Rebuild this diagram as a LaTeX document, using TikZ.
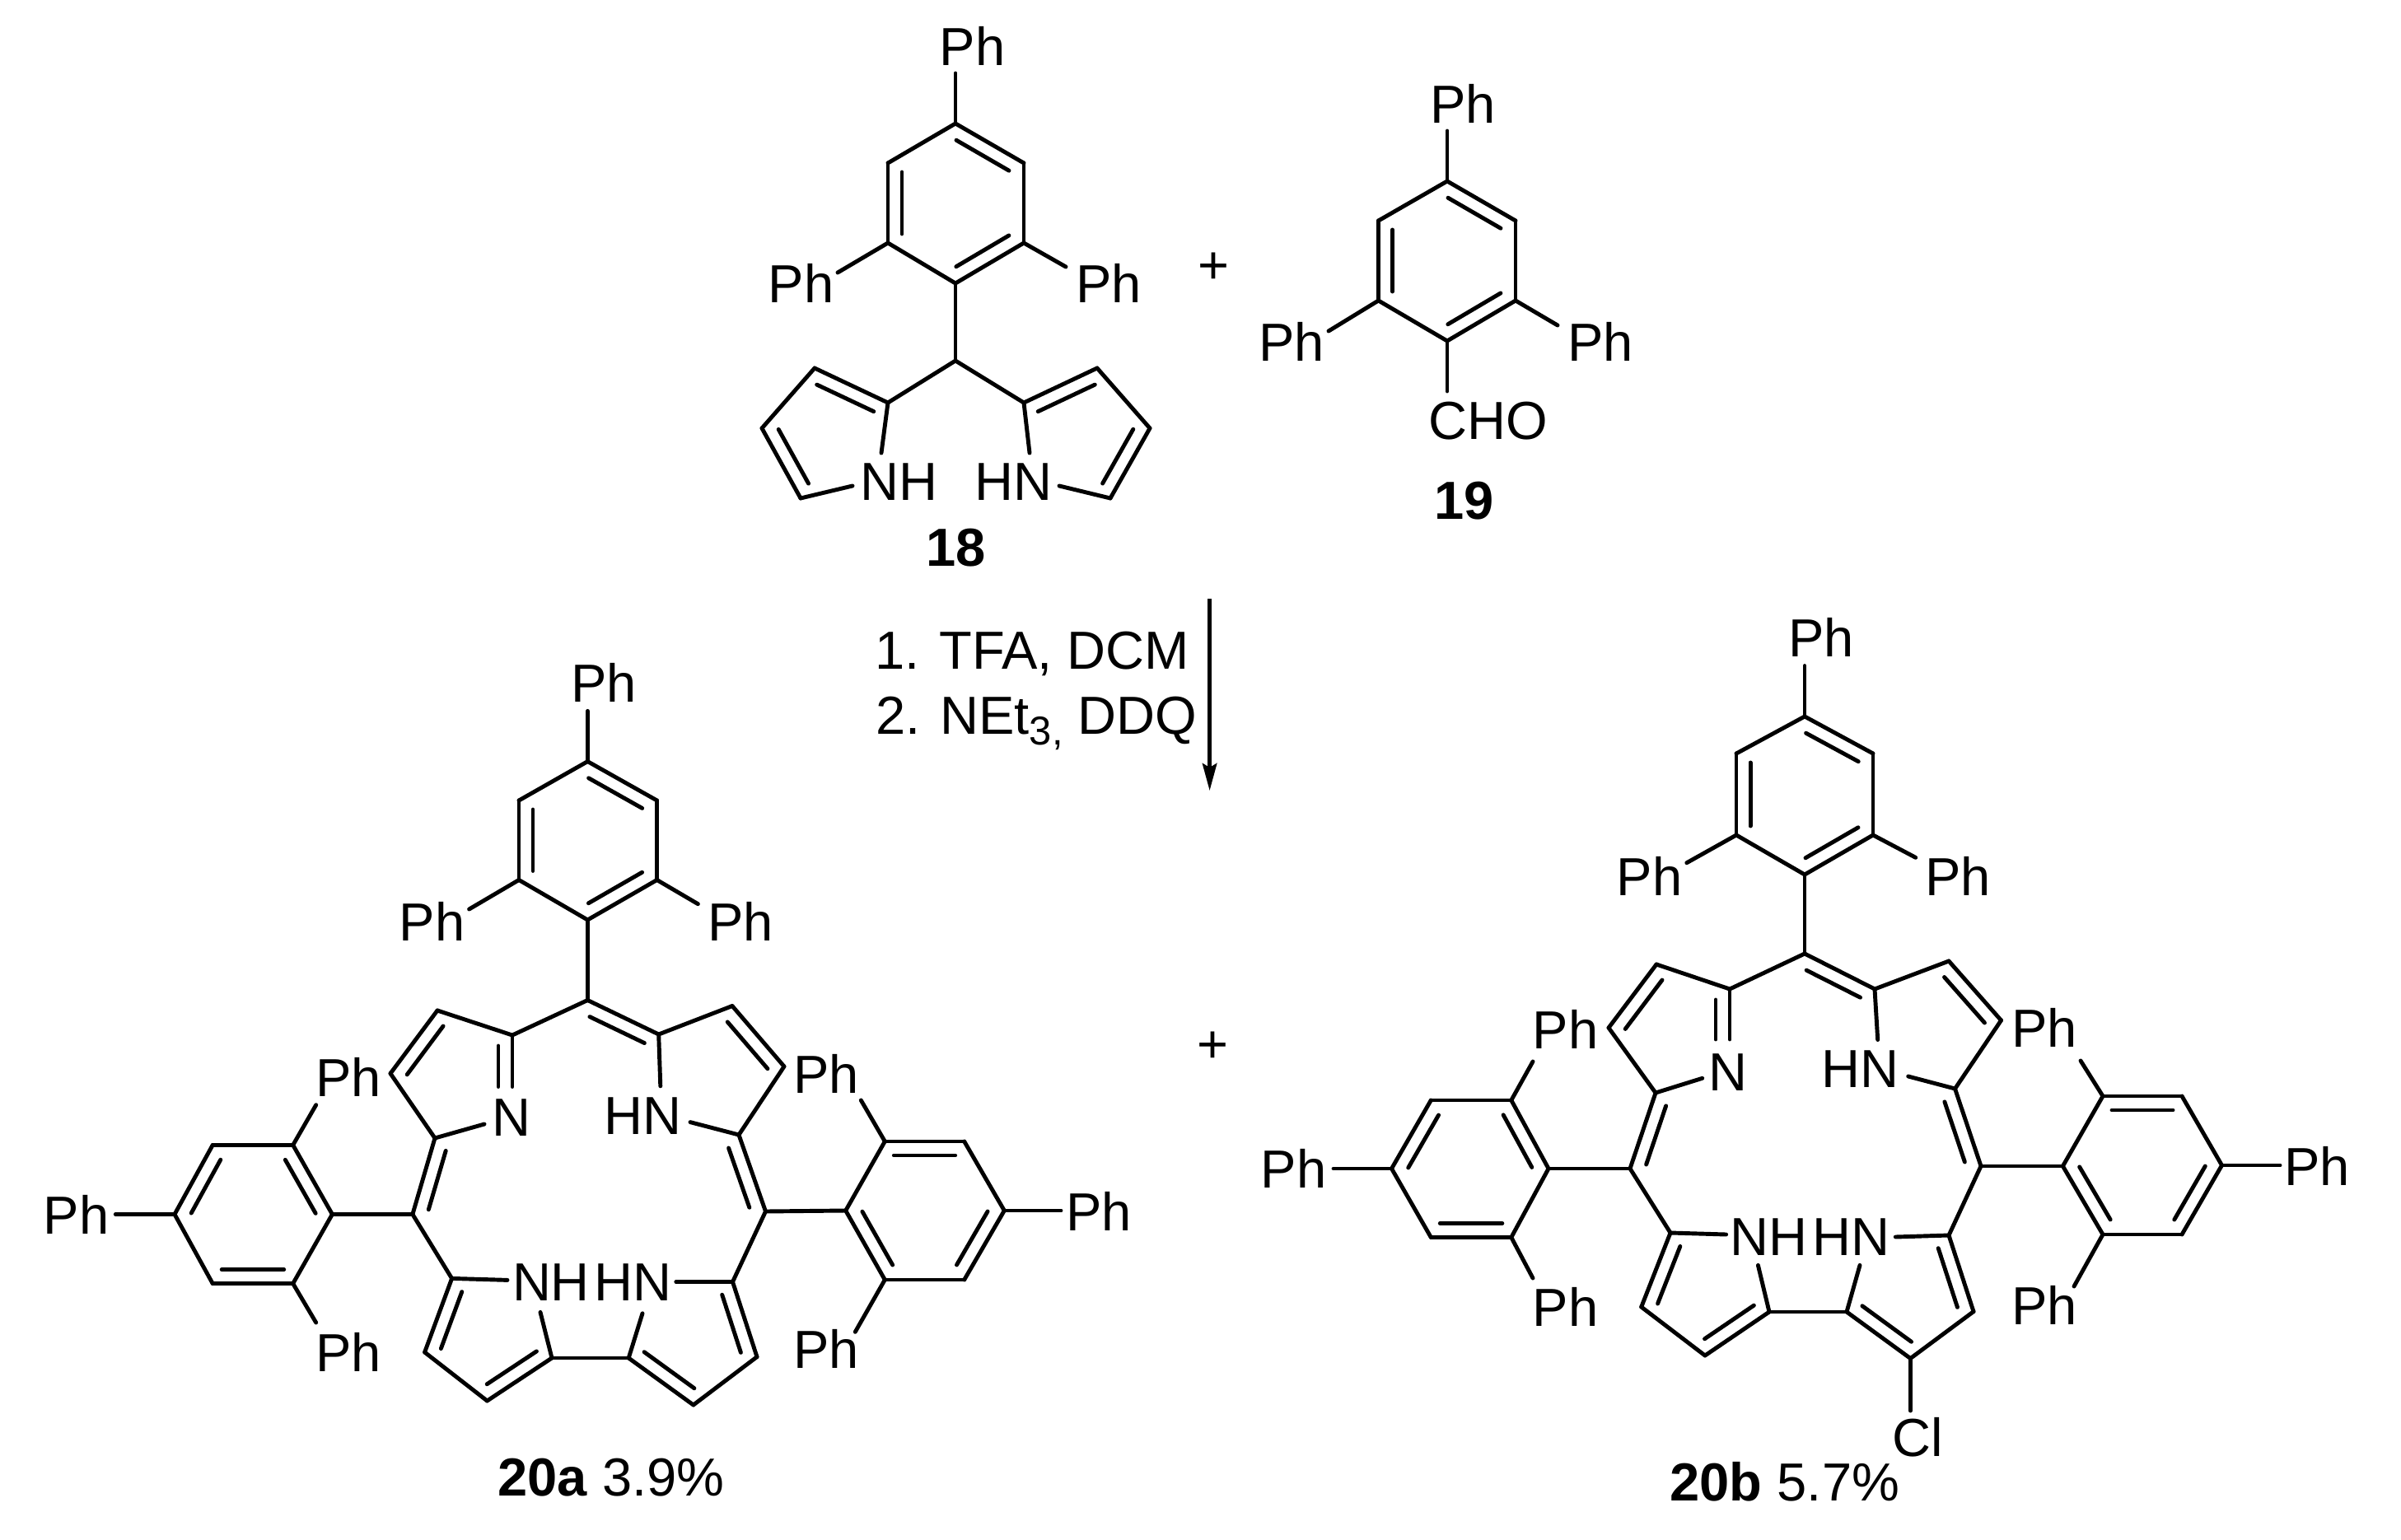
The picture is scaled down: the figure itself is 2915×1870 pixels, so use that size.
\documentclass[tikz,border=0pt]{standalone}
\usepackage{fontspec}
\setmainfont{Liberation Sans}
\usepackage{tikz}
\usetikzlibrary{calc}
\usetikzlibrary{arrows.meta}
\newcommand{\chemfont}{\fontsize{18.5}{22}\selectfont}
\newcommand{\subfont}{\fontsize{13.9}{16}\selectfont}
\tikzset{bond/.style={line width=1.4pt,line cap=round,black}}
\tikzset{atom/.style={inner sep=0pt,outer sep=0pt,font=\chemfont,black}}
\begin{document}
\begin{tikzpicture}[x=0.01cm,y=-0.01cm]
\useasboundingbox (0,0) rectangle (2915,1870);
  % some vertices
\foreach \n/\x/\y in {A1/1160/150,A2/1243/198,A3/1243/295,A4/1160/344,A5/1078/295,A6/1078/198,
    Ae1/1160/89,Ae2/1017/331,Ae3/1294/324,AC/1160/438,
    AL1/1078/489,AL2/989/447,AL3/925/520,AL4/972/605,AL5/1035/590,AL6/1070/550,
    AR1/1243/489,AR2/1332/447,AR3/1396/520,AR4/1348/605,AR5/1286/590,AR6/1250/550,
    B1/1757/220,B2/1840/268,B3/1840/365,B4/1757/414,B5/1673.5/365,B6/1673.5/268,
    Be1/1757/159,Be2/1613/402,Be3/1891/395,Be4/1757/475,
    C1/713.4/924.6,C2/797.6/972,C3/797.6/1068.5,C4/713.4/1117,C5/630/1068.5,C6/630/972,
    Ce1/713.4/863.4,Ce2/569.6/1104,Ce3/847.4/1097.7,
    CM1/713.4/1214.5,CM2/500.9/1474.5,CM3/929.5/1471,
    CP1/622/1257,CP2/531/1227,CP3/474/1303.5,CP4/528/1382,CP5/588/1365,CP6/622/1319.5,
    CQ1/799.7/1256,CQ2/889/1221.5,CQ3/952/1295,CQ4/897/1378,CQ5/838/1362.6,CQ6/801.8/1318.8,
    CR1/548.6/1552.4,CR2/515.6/1642,CR3/591.4/1701,CR4/670/1649,CR5/616/1554.4,CR6/656/1593.4,
    CS1/889.5/1556.5,CS2/919/1647.6,CS3/841.8/1706,CS4/763.2/1649,CS5/820.8/1556.5,CS6/780/1594.8,
    CA1/403.4/1474.5,CA2/355.7/1390.4,CA3/258.2/1390.4,CA4/212/1474.5,CA5/258.2/1558.6,CA6/355.7/1558.6,
    CAe1/383.7/1341.7,CAe2/383.7/1606,CAe3/140.3/1474.5,
    CB1/1026.7/1470,CB2/1074.3/1386,CB3/1170.7/1386,CB4/1219.3/1470,CB5/1170.7/1554,CB6/1074.3/1554,
    CBe1/1045.3/1336,CBe2/1038.3/1617.3,CBe3/1288/1470,
    D1/2191/870,D2/2274/915,D3/2274/1014,D4/2191/1062,D5/2108/1014,D6/2108/915,
    De1/2191/808.5,De2/2047.8/1047.7,De3/2325.7/1041.3,
    DM1/2191/1158,DM2/1979/1419,DM3/2405/1416,
    DP1/2100/1201,DP2/2011/1171,DP3/1953/1248,DP4/2010/1327,DP5/2066.7/1309.3,DP6/2100/1262,
    DQ1/2276/1201,DQ2/2366/1167,DQ3/2429.5/1239,DQ4/2373.5/1322,DQ5/2316.7/1307,DQ6/2279.7/1262.5,
    DR1/2028/1497,DR2/1992.7/1587,DR3/2070/1646,DR4/2148/1593,DR5/2095.6/1499,DR6/2134.4/1536.4,
    DS1/2366/1500,DS2/2396/1592.6,DS3/2319.4/1649.5,DS4/2242/1593,DS5/2301.3/1502,DS6/2258/1536.4,
    DA1/1880/1419,DA2/1834.8/1336,DA3/1737.3/1336,DA4/1689.5/1419,DA5/1737.3/1502.5,DA6/1834.8/1502.5,
    DAe1/1861/1289,DAe2/1861/1552,DAe3/1619/1419,
    DB1/2504.4/1416,DB2/2553/1331,DB3/2649/1331,DB4/2697.5/1415,DB5/2649/1499,DB6/2553/1499,
    DBe1/2526/1288,DBe2/2518/1562,DBe3/2768/1415,Dc/2319.4/1713,
    arrS/1468.6/727,arrE/1468.6/960}
    \coordinate (\n) at (\x,\y);

  % labels
\foreach \n/\x/\y/\t in {LA1/1180.6/55.8/Ph,LA2/972.4/343.7/Ph,LA3/1346/343.7/Ph,LA4/1091.8/584.8/NH,LA5/1230.4/584.8/HN,
    LB1/1776/125.9/Ph,LB2/1567.9/415.2/Ph,LB3/1942.8/415.2/Ph,LB4/1806.6/511/CHO,
    LC1/733/829/Ph,LC2/524.7/1118.6/Ph,LC3/899.3/1118.6/Ph,LC4/423/1308.4/Ph,LC5/423/1642/Ph,LC6/92.6/1475.2/Ph,
    LC7/1003.3/1304/Ph,LC8/1003.3/1637.7/Ph,LC9/1334/1470.7/Ph,
    NC1/620.8/1357/N,NC2/780.8/1355.6/HN,NC3/669/1557/NH,NC4/768.7/1557/HN,
    LD1/2211/774/Ph,LD2/2002.6/1064.3/Ph,LD3/2377.1/1064.3/Ph,LD4/1900.7/1250.2/Ph,LD5/1900.7/1586.8/Ph,LD6/1570.4/1418.9/Ph,
    LD7/2481.8/1248/Ph,LD8/2481.8/1584.6/Ph,LD9/2813/1416/Ph,
    ND1/2098.3/1302/N,ND2/2258/1298.5/HN,ND3/2147.9/1501.8/NH,ND4/2247/1501.8/HN,ND5/2328.4/1745.4/Cl,
    plus1/1473.7/326/+,plus2/1472.6/1272/+,
    num18/1160.7/665/\textbf{18},num19/1777.5/608/\textbf{19},
    num20a/741.8/1794/\textbf{20a} 3.9\%,num20b/2166.8/1799.7/\textbf{20b} 5.7\%}
    \node[atom] (\n) at (\x,\y) {\t};
\node[atom,anchor=base west] (cond1) at (1062,812.7) {1. TFA, DCM};
\node[atom,anchor=base west] (cond2) at (1063,891.7) {2. NEt\raisebox{-3.7pt}{\subfont 3,} DDQ};
\draw[line width=1.25pt,-{Stealth[length=0.33cm,width=0.175cm,inset=0.05cm]}] (arrS) -- (arrE);

  % the two building blocks
\foreach \a/\b in {A1/A2,A2/A3,A3/A4,A4/A5,A5/A6,A6/A1,A1/Ae1,A5/Ae2,A3/Ae3,A4/AC,AC/AL1,AC/AR1,
    AL1/AL2,AL2/AL3,AL3/AL4,AL4/AL5,AL1/AL6,AR1/AR2,AR2/AR3,AR3/AR4,AR4/AR5,AR1/AR6,
    B1/B2,B2/B3,B3/B4,B4/B5,B5/B6,B6/B1,B1/Be1,B5/Be2,B3/Be3,B4/Be4}
    \draw[bond] (\a) -- (\b);

  % porphyrins 20a and 20b have the same bonds
\foreach \m in {C,D}{
    \foreach \a/\b in {1/2,2/3,3/4,4/5,5/6,6/1,1/e1,5/e2,3/e3,4/M1,M1/P1,M1/Q1,
        P1/P2,P2/P3,P3/P4,P4/P5,P1/P6,Q1/Q2,Q2/Q3,Q3/Q4,Q4/Q5,Q1/Q6,
        P4/M2,Q4/M3,M2/A1,M3/B1,M2/R1,M3/S1,
        R1/R2,R2/R3,R3/R4,R1/R5,R4/R6,S1/S2,S2/S3,S3/S4,S1/S5,S4/S6,R4/S4,
        A1/A2,A2/A3,A3/A4,A4/A5,A5/A6,A6/A1,A2/Ae1,A6/Ae2,A4/Ae3,
        B1/B2,B2/B3,B3/B4,B4/B5,B5/B6,B6/B1,B2/Be1,B6/Be2,B4/Be3}
        \draw[bond] (\m\a) -- (\m\b);
    \foreach \a/\b in {1/2,3/4,5/6,P3/P2,Q2/Q3,M1/Q1,M2/P4,Q4/M3,R2/R1,R4/R3,S1/S2,S3/S4,
        A2/A1,A6/A5,A4/A3,B2/B3,B4/B5,B6/B1}
        \draw[bond] ($(\m\a)!0.11cm!(\m\b)!0.17cm!-90:(\m\b)$) -- ($(\m\b)!0.11cm!(\m\a)!0.17cm!90:(\m\a)$);
    \draw[bond] ($(\m P1)!0.13cm!(\m P6)!0.17cm!-90:(\m P6)$) -- ($(\m P6)!0.17cm!90:(\m P1)$);
}
\draw[bond] (DS3) -- (Dc);

  % inner lines of the building blocks
\foreach \a/\b in {A1/A2,A3/A4,A5/A6,AL2/AL1,AL4/AL3,AR1/AR2,AR3/AR4,B1/B2,B3/B4,B5/B6}
    \draw[bond] ($(\a)!0.11cm!(\b)!0.17cm!-90:(\b)$) -- ($(\b)!0.11cm!(\a)!0.17cm!90:(\a)$);
\end{tikzpicture}
\end{document}
